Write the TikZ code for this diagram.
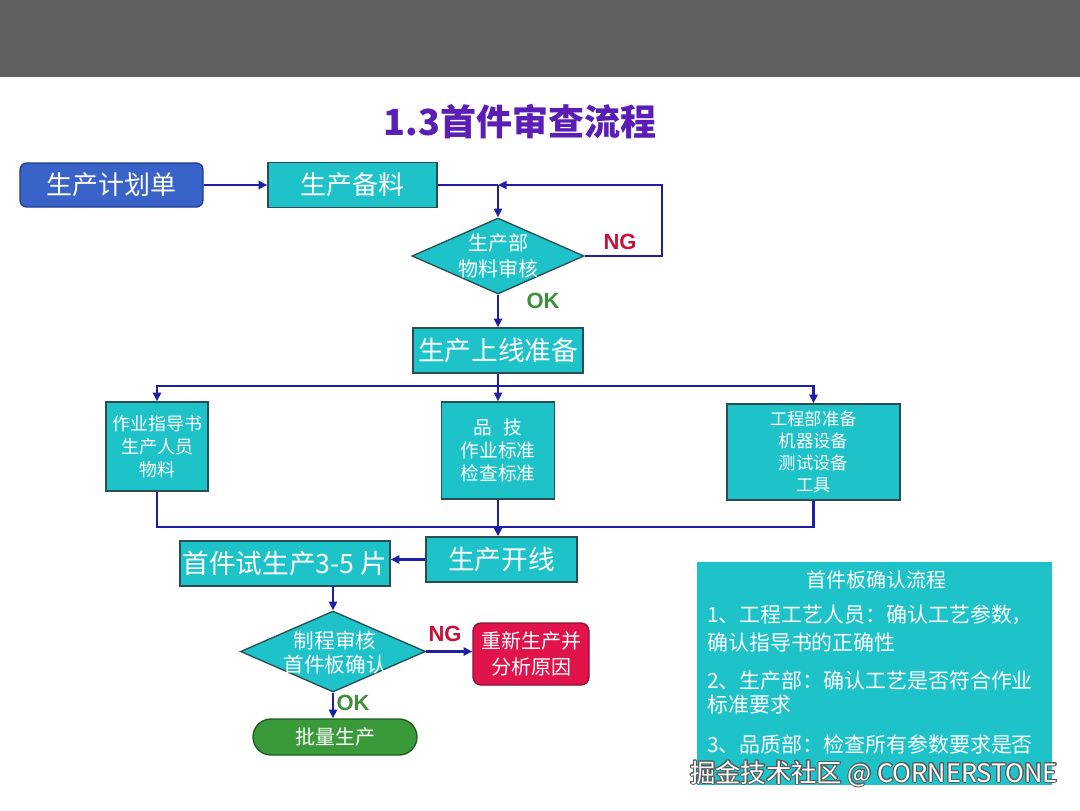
\documentclass[tikz,border=0pt]{standalone}
\usepackage{fontspec}
\usepackage{contour}
\contourlength{0.7pt}
\contournumber{16}
\newfontfamily\cjk{Noto Sans CJK SC}
\newfontfamily\lat{Liberation Sans}
\usetikzlibrary{shapes.geometric,arrows.meta}
\definecolor{bar}{HTML}{5F5F5F}
\definecolor{cyanf}{HTML}{1EC2C9}
\definecolor{edge}{HTML}{2B4E54}
\definecolor{lineb}{HTML}{1E1EA6}
\definecolor{planf}{HTML}{3A63C9}
\definecolor{plane}{HTML}{1E3C8C}
\definecolor{redf}{HTML}{E0144A}
\definecolor{rede}{HTML}{8A1030}
\definecolor{grnf}{HTML}{3A9A3A}
\definecolor{grne}{HTML}{1E5A1E}
\definecolor{ttl}{HTML}{5A1DB6}
\definecolor{ngc}{HTML}{C8103A}
\definecolor{okc}{HTML}{3E8E3E}
\newcommand\fsz[2]{\cjk\fontsize{#1}{#2}\selectfont}
\begin{document}
\begin{tikzpicture}[x=0.75pt,y=-0.75pt,
  box/.style={draw=edge, line width=1pt, fill=cyanf, text=white, inner sep=0pt, align=center},
  dia/.style={diamond, draw=edge, line width=1pt, fill=cyanf, inner sep=0pt},
  lbl/.style={text=white, inner sep=0pt, align=center},
  ln/.style={draw=lineb, line width=1.7pt},
  arr/.style={ln, -{Triangle[length=6.5pt,width=6pt]}},
  ngl/.style={text=ngc, font=\lat\fontsize{16.5pt}{19pt}\selectfont\bfseries, inner sep=0pt},
  okl/.style={text=okc, font=\lat\fontsize{16.5pt}{19pt}\selectfont\bfseries, inner sep=0pt},
  wmk/.style={font=\fsz{19pt}{21pt}, inner sep=0pt, text=white}
]
\useasboundingbox (0,0) rectangle (1080,810);
\fill[white] (0,0) rectangle (1080,810);
\fill[bar] (0,0) rectangle (1080,77);
\node[text=ttl, font=\fsz{27pt}{30pt}\bfseries, inner sep=0pt] (title) at (520,122) {1.3首件审查流程};

\node[box, draw=plane, fill=planf, rounded corners=5pt, minimum width=137.25pt, minimum height=33pt, font=\fsz{19.5pt}{22pt}] (plan) at (111.5,185) {生产计划单};
\node[box, minimum width=126.75pt, minimum height=33.75pt, font=\fsz{19.5pt}{22pt}] (prep) at (352.5,185) {生产备料};
\node[dia, minimum width=129pt, minimum height=57pt] (d1) at (498,256) {};
\node[lbl, font=\fsz{15pt}{19pt}] (d1t) at (498,256) {生产部\\物料审核};
\node[ngl] (ng1) at (620,242) {NG};
\node[okl] (ok1) at (543,301) {OK};
\node[box, minimum width=127.5pt, minimum height=33.75pt, font=\fsz{20pt}{23pt}] (ready) at (498,350.5) {生产上线准备};

\node[box, minimum width=76.5pt, minimum height=66.75pt, font=\fsz{13.5pt}{17pt}] (lb) at (157,446.5) {作业指导书\\生产人员\\物料};
\node[box, minimum width=84.75pt, minimum height=72.75pt, font=\fsz{14pt}{17pt}] (mb) at (498,450.5) {品\hspace{0.6em}技\\作业标准\\检查标准};
\node[box, minimum width=129.75pt, minimum height=72pt, font=\fsz{13pt}{16.5pt}] (rb) at (813.5,452) {工程部准备\\机器设备\\测试设备\\工具};

\node[box, minimum width=113.25pt, minimum height=33.75pt, font=\fsz{20pt}{23pt}] (start) at (501.5,559.5) {生产开线};
\node[box, minimum width=157.5pt, minimum height=33.75pt, font=\fsz{20pt}{23pt}] (trial) at (285,563.5) {首件试生产3-5 片};

\node[dia, minimum width=138.75pt, minimum height=60.75pt] (d2) at (333,651.5) {};
\node[lbl, font=\fsz{15.5pt}{18pt}] (d2t) at (335,653) {制程审核\\首件板确认};
\node[ngl] (ng2) at (445,634) {NG};
\node[okl] (ok2) at (353,703) {OK};
\node[box, draw=rede, fill=redf, rounded corners=6pt, minimum width=87pt, minimum height=46.5pt, font=\fsz{15pt}{19pt}] (redo) at (531,654) {重新生产并\\分析原因};
\node[box, draw=grne, fill=grnf, rounded corners=13.5pt, minimum width=123pt, minimum height=27pt, font=\fsz{15pt}{18pt}] (batch) at (335,737) {批量生产};

\node[fill=cyanf, minimum width=266.25pt, minimum height=167.25pt, inner sep=0pt] (info) at (874.5,673.5) {};
\node[lbl, font=\fsz{15pt}{18pt}] (it) at (876,580) {首件板确认流程};
\node[lbl, anchor=west, font=\fsz{15.7pt}{19pt}] (i1) at (707,615) {1、工程工艺人员：确认工艺参数，};
\node[lbl, anchor=west, font=\fsz{15.7pt}{19pt}] (i1b) at (707,643) {确认指导书的正确性};
\node[lbl, anchor=west, font=\fsz{15.7pt}{19pt}] (i2) at (707,681) {2、生产部：确认工艺是否符合作业};
\node[lbl, anchor=west, font=\fsz{15.7pt}{19pt}] (i2b) at (707,705) {标准要求};
\node[lbl, anchor=west, font=\fsz{15.7pt}{19pt}] (i3) at (707,744) {3、品质部：检查所有参数要求是否};

\node[wmk] (wm) at (874,774) {\contour{black!65}{掘金技术社区 @ CORNERSTONE}};

\coordinate (j1) at (498,185);
\coordinate (nr) at (662,256);
\coordinate (jb) at (498,386);
\coordinate (jc) at (498,527);

\draw[arr] (plan) -- (prep);
\draw[ln] (prep.east) -- (j1);
\draw[arr] (j1) -- (d1.north);
\draw[arr] (d1.east) -- (nr) |- (j1);
\draw[arr] (d1.south) -- (ready.north);
\draw[ln] (ready.south) -- (jb);
\draw[arr] (jb) -| (lb.north);
\draw[arr] (jb) -- (mb.north);
\draw[arr] (jb) -| (rb.north);
\draw[ln] (lb.south) |- (jc);
\draw[ln] (rb.south) |- (jc);
\draw[arr] (mb.south) -- (mb.south |- start.north);
\draw[arr] (start.west) -- (start.west -| trial.east);
\draw[arr] (trial.south -| d2.north) -- (d2.north);
\draw[arr] (d2.east) -- (d2.east -| redo.west);
\draw[arr] (d2.south) -- (d2.south |- batch.north);
\end{tikzpicture}
\end{document}
